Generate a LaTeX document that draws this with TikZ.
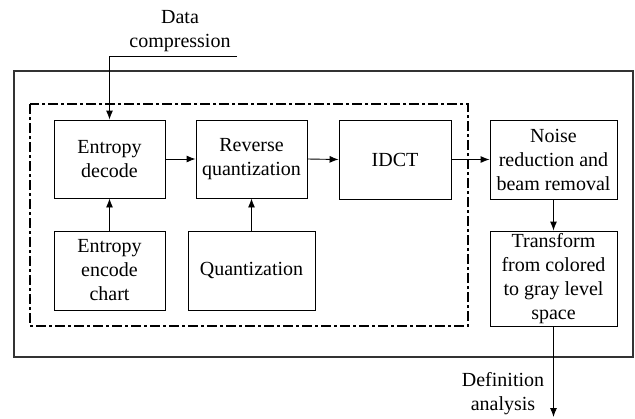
\documentclass[tikz,border=0pt]{standalone}
\usepackage{fontspec}
\setmainfont{Liberation Serif}
\usetikzlibrary{arrows.meta}
\begin{document}
\begin{tikzpicture}[x=1pt,y=-1pt,
  font=\fontsize{20}{24}\selectfont,
  blk/.style={draw,line width=0.9pt,rectangle,align=center,inner sep=0pt},
  lbl/.style={align=center,inner sep=0pt},
  arr/.style={line width=0.9pt,-{Latex[length=9pt,width=7pt]}},
  frame/.style={draw=black!80,line width=1.3pt},
  dashframe/.style={draw,line width=1.5pt,dash pattern=on 10pt off 3pt on 3pt off 3pt}]
  \useasboundingbox (0,0) rectangle (635,418);

  % enclosing frames
  \draw[frame] (14,71) rectangle (633,357);
  \draw[dashframe] (30,104) rectangle (468,326);

  % processing blocks
  \node[blk,minimum width=111pt,minimum height=78pt] (dec) at (109.5,159) {Entropy\\decode};
  \node[blk,minimum width=111pt,minimum height=78pt] (rq) at (251.5,159) {Reverse\\quantization};
  \node[blk,minimum width=112pt,minimum height=79pt] (idct) at (395,159.5) {IDCT};
  \node[blk,minimum width=127pt,minimum height=79pt] (nr) at (553.5,159.5) {Noise\\reduction and\\beam removal};
  \node[blk,minimum width=127pt,minimum height=95pt] (tf) at (553.5,278.5) {Transform\\from colored\\to gray level\\space};
  \node[blk,minimum width=111pt,minimum height=79pt] (enc) at (109.5,270.5) {Entropy\\encode\\chart};
  \node[blk,minimum width=127pt,minimum height=79pt] (q) at (251.5,270.5) {Quantization};

  % external labels
  \node[lbl] (dc) at (180,31) {Data\\compression};
  \node[lbl] (da) at (503,394) {Definition\\analysis};
  \coordinate (din) at (237,56);
  \coordinate (dout) at (553.5,417);

  % connectors
  \draw[arr] (din) -| (dec.north);
  \draw[arr] (enc.north) -- (dec.south);
  \draw[arr] (q.north) -- (rq.south);
  \draw[arr] (dec.east) -- (rq.west);
  \draw[arr] (rq.east) -- (idct.west);
  \draw[arr] (idct.east) -- (nr.west);
  \draw[arr] (nr.south) -- (tf.north);
  \draw[arr] (tf.south) -- (dout);
\end{tikzpicture}
\end{document}
